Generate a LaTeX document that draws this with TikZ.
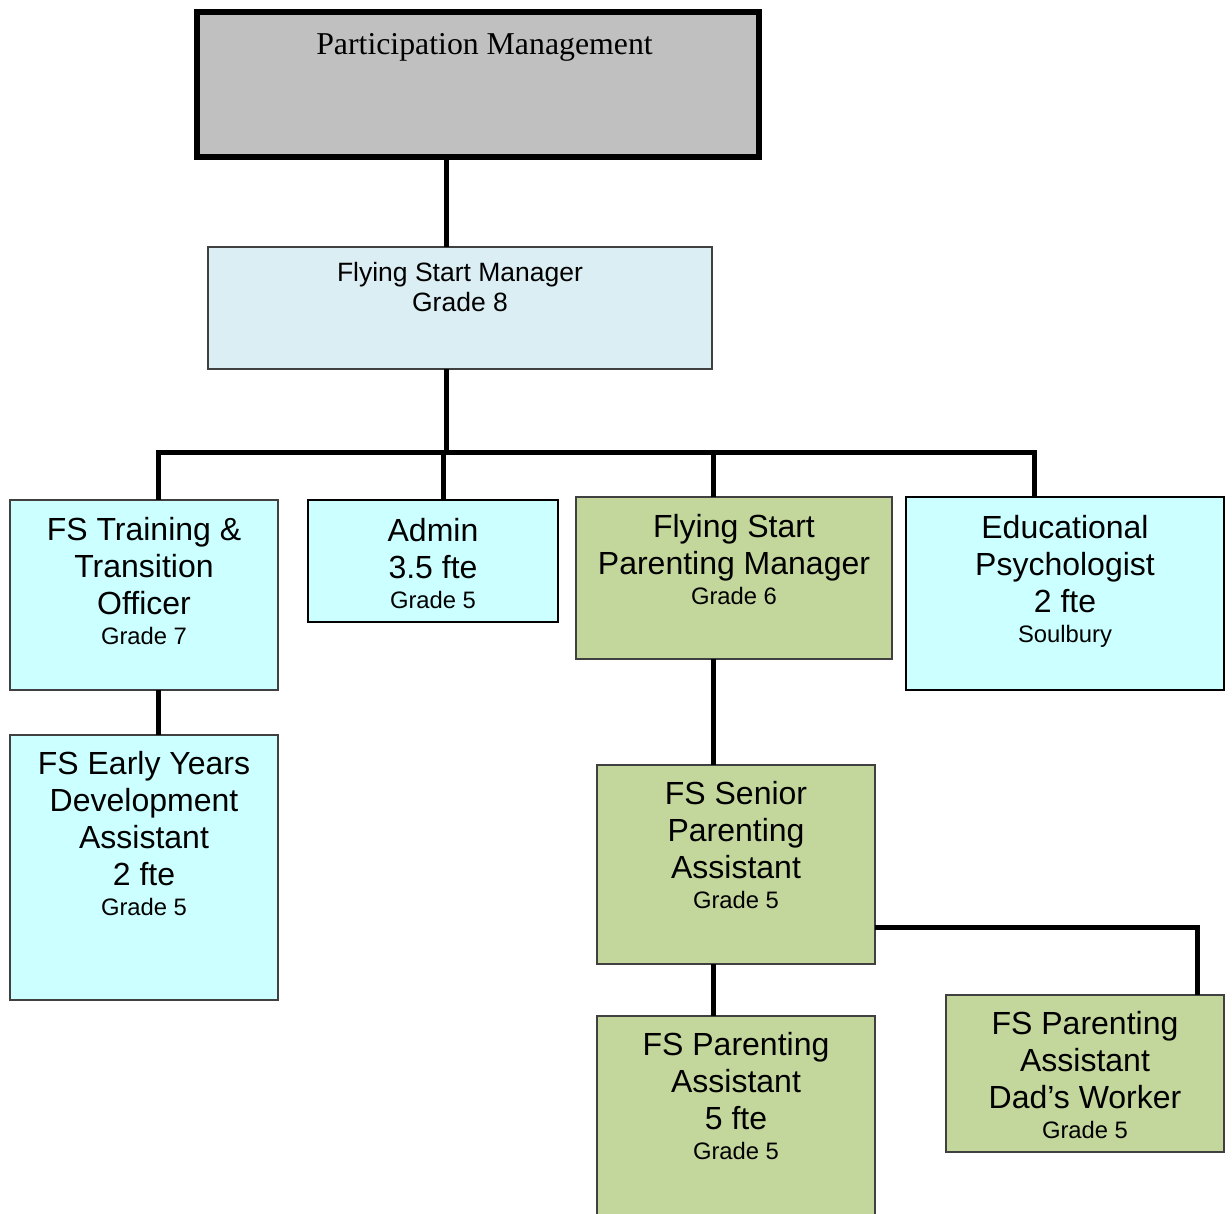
\documentclass[tikz,border=0pt]{standalone}
\usepackage{fontspec}
\setmainfont{Liberation Sans}
\newfontfamily\pmfont{Liberation Serif}
\usetikzlibrary{calc}

\definecolor{pmgrey}{HTML}{C0C0C0}
\definecolor{mgrblue}{HTML}{DAEEF3}
\definecolor{teamcyan}{HTML}{CCFFFF}
\definecolor{parentgreen}{HTML}{C3D69B}

\newcommand{\titlefont}{\fontsize{16}{18.5}\selectfont}
\newcommand{\gradefont}{\fontsize{11.9}{14.75}\selectfont}
\newcommand{\roletext}[4]{\parbox[t][#2][t]{#1}{\centering\rule{0pt}{#3}#4}}

\begin{document}
\begin{tikzpicture}[x=0.5pt, y=-0.5pt,
	role/.style={draw=black!75, line width=0.75pt, inner sep=0pt, outer sep=0pt, anchor=north west},
	link/.style={line width=2.5pt}]
	\useasboundingbox (0,0) rectangle (1232,1214);
	\node[role, fill=pmgrey, draw=black, line width=3pt] (pm) at (197,12) {\roletext{281pt}{72.5pt}{21.5pt}{{\pmfont\fontsize{15.9}{18}\selectfont\hspace*{6.5pt}Participation Management\par}}};
	\node[role, fill=mgrblue] (fsm) at (208,247) {\roletext{252pt}{61pt}{17.25pt}{{\fontsize{13.25}{15}\selectfont Flying Start Manager\\Grade 8\par}}};
	\node[role, fill=teamcyan] (fst) at (10,500) {\roletext{134pt}{95pt}{20.25pt}{{\titlefont FS Training \&\\Transition\\Officer\par}{\gradefont Grade 7\par}}};
	\node[role, fill=teamcyan, draw=black] (admin) at (308,500) {\roletext{125pt}{61pt}{20.75pt}{{\titlefont Admin\\3.5 fte\par}{\gradefont Grade 5\par}}};
	\node[role, fill=parentgreen] (fspm) at (576,497) {\roletext{158pt}{81pt}{20.25pt}{{\titlefont Flying Start\\Parenting Manager\par}{\gradefont Grade 6\par}}};
	\node[role, fill=teamcyan, draw=black, line width=1pt] (ep) at (906,497) {\roletext{159pt}{96.5pt}{20.75pt}{{\titlefont Educational\\Psychologist\\2 fte\par}{\gradefont Soulbury\par}}};
	\node[role, fill=teamcyan] (fsey) at (10,735) {\roletext{134pt}{132.5pt}{19.75pt}{{\titlefont FS Early Years\\Development\\Assistant\\2 fte\par}{\gradefont Grade 5\par}}};
	\node[role, fill=parentgreen] (fsspa) at (597,765) {\roletext{139pt}{99.5pt}{19.75pt}{{\titlefont FS Senior\\Parenting\\Assistant\par}{\gradefont Grade 5\par}}};
	\node[role, fill=parentgreen] (fspa) at (597,1016) {\roletext{139pt}{102pt}{19.75pt}{{\titlefont FS Parenting\\Assistant\\5 fte\par}{\gradefont Grade 5\par}}};
	\node[role, fill=parentgreen] (fspad) at (946,995) {\roletext{139pt}{78.5pt}{19.75pt}{{\titlefont FS Parenting\\Assistant\\Dad’s Worker\par}{\gradefont Grade 5\par}}};
	\coordinate (j) at (446,452);
	\coordinate (d1) at (158,452);
	\coordinate (d2) at (443,452);
	\coordinate (d3) at (713,452);
	\coordinate (d4) at (1034,452);
	\coordinate (d5) at (1197,927);
	\draw[link] (pm.south -| j) -- (fsm.north -| j);
	\draw[link] (fsm.south -| j) -- (j);
	\draw[link] (fst.north -| d1) |- (d4) -- (ep.north -| d4);
	\draw[link] (d2) -- (admin.north -| d2);
	\draw[link] (d3) -- (fspm.north -| d3);
	\draw[link] (fst.south -| d1) -- (fsey.north -| d1);
	\draw[link] (fspm.south -| d3) -- (fsspa.north -| d3);
	\draw[link] (fsspa.south -| d3) -- (fspa.north -| d3);
	\draw[link] (fsspa.east |- d5) -| (fspad.north -| d5);
\end{tikzpicture}
\end{document}
